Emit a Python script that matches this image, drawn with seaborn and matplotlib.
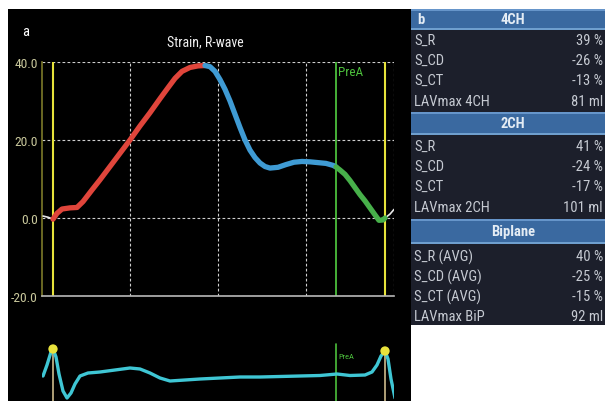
import numpy as np
import pandas as pd
import seaborn as sns
import matplotlib.pyplot as plt
from matplotlib import font_manager
from matplotlib.patches import Rectangle

W, H = 605, 402

## strain curve, x = frame index (0..352), y = strain %
lead_t = [1, 6, 11]
lead_v = [0.5, 0.2, -0.3]
red_t = [11, 15, 20, 28, 35, 41, 50, 58, 68, 78, 88, 98, 108, 118, 126, 133, 140, 148, 156, 163]
red_v = [-0.3, 1.2, 2.3, 2.6, 2.7, 4.2, 7.2, 9.8, 13.2, 16.6, 20.0, 23.6, 27.0, 30.6, 33.4, 35.8, 37.6, 38.6, 39.0, 39.1]
blue_t = [163, 168, 173, 178, 183, 188, 193, 198, 203, 208, 213, 218, 223, 228, 236, 244, 252, 260, 268, 276, 284, 291, 294]
blue_v = [39.1, 38.8, 37.6, 35.5, 33.0, 30.0, 26.6, 23.2, 20.0, 17.4, 15.5, 14.1, 13.2, 12.8, 13.0, 13.7, 14.3, 14.5, 14.4, 14.2, 14.0, 13.5, 13.1]
green_t = [294, 298, 303, 308, 313, 318, 323, 328, 333, 337, 341, 343]
green_v = [13.1, 12.3, 11.2, 9.6, 7.8, 6.0, 4.4, 2.6, 0.8, -0.6, -0.5, 0.0]
tail_t = [343, 348, 352]
tail_v = [0.0, 1.0, 2.2]

## markers
r_marks = [11, 343]
prea_t = 294

## ECG trace (arbitrary units)
ecg_t = [1, 5, 9, 11, 14, 17, 21, 25, 29, 33, 38, 46, 58, 73, 88, 98, 108, 118, 128, 143, 158, 178,
         198, 218, 238, 258, 278, 295, 308, 323, 330, 335, 339, 343, 346, 349, 353]
ecg_v = [23, 34, 47, 50, 42, 25, 8, 1, 6, 15, 23, 26, 27, 29, 31, 30, 26, 21, 18, 19, 20, 21,
         22, 22, 22.5, 23, 23.5, 25, 23.5, 24, 27, 34, 43, 48, 40, 20, 1]
r_peak_v = [50, 48]

## table
labels_4ch = ['S_R', 'S_CD', 'S_CT', 'LAVmax 4CH']
values_4ch = [39, -26, -13, 81]
labels_2ch = ['S_R', 'S_CD', 'S_CT', 'LAVmax 2CH']
values_2ch = [41, -24, -17, 101]
labels_bip = ['S_R (AVG)', 'S_CD (AVG)', 'S_CT (AVG)', 'LAVmax BiP']
values_bip = [40, -25, -15, 92]
units = ['%', '%', '%', 'ml']
headers = ['4CH', '2CH', 'Biplane']

yticks = [-20, 0, 20, 40]
ytick_labels = ['-20.0', '0.0', '20.0', '40.0']


def box(x0, y0, x1, y1):
    return [x0 / W, 1 - y1 / H, (x1 - x0) / W, (y1 - y0) / H]


sns.set_style('dark')
installed = {f.name for f in font_manager.fontManager.ttflist}
narrow = [f for f in ['Liberation Sans Narrow', 'DejaVu Sans Condensed', 'Roboto Condensed'] if f in installed]
plt.rcParams['font.family'] = narrow + ['Liberation Sans', 'DejaVu Sans']
# without a condensed face, shrink the text a bit
fs = 10.5 if narrow else 9.5

fig = plt.figure(figsize=(W / 100, H / 100), dpi=100)
fig.patch.set_facecolor('white')

# black screen background
bg = fig.add_axes(box(8, 10, 411, 402))
bg.set_facecolor('black')
bg.set_xticks([])
bg.set_yticks([])
for s in bg.spines.values():
    s.set_visible(False)

# main strain plot
ax = fig.add_axes(box(42, 63, 394, 297))
ax.patch.set_alpha(0)
ax.set_xlim(0, 352)
ax.set_ylim(-20, 40)
ax.set_xticks([88, 176, 264, 352])
ax.set_xticklabels([])
ax.set_yticks(yticks)
ax.set_yticklabels(ytick_labels)
ax.tick_params(axis='y', colors='#ffffff', labelcolor='#c9c89c', labelsize=fs - 0.8, length=2.5, width=0.8, pad=0.5)
ax.tick_params(axis='x', colors='#a0a0a0', length=3, width=0.8)
ax.grid(True, color='#cfcfcf', lw=0.8, linestyle=(0, (2.5, 2)))
for k in ['top', 'right']:
    ax.spines[k].set_visible(False)
ax.spines['left'].set_color('#7c7a2a')
ax.spines['left'].set_linewidth(1.2)
ax.spines['bottom'].set_color('#b8b8b8')
ax.spines['bottom'].set_linewidth(1.2)
ax.spines['bottom'].set_zorder(5)

for t in r_marks:
    ax.axvline(t, color='#e6e23a', lw=1.5, zorder=2)
ax.axvline(prea_t, color='#4cbf3c', lw=1.3, zorder=2)

sns.lineplot(x=lead_t, y=lead_v, ax=ax, color='#e8e8e8', lw=1.2, zorder=3)
sns.lineplot(x=tail_t, y=tail_v, ax=ax, color='#e8e8e8', lw=1.2, zorder=3)
sns.lineplot(x=red_t, y=red_v, ax=ax, color='#e0453b', lw=3.8, zorder=4)
sns.lineplot(x=blue_t, y=blue_v, ax=ax, color='#3f9bd4', lw=3.8, zorder=4)
sns.lineplot(x=green_t, y=green_v, ax=ax, color='#47b04a', lw=3.8, zorder=4)
ax.set_xlabel('')
ax.set_ylabel('')
ax.text(prea_t + 2, 37.5, 'PreA', color='#4cbf3c', fontsize=fs - 1, va='center', ha='left')

fig.text(22 / W, 1 - 32 / H, 'a', color='white', fontsize=fs, va='center')
fig.text(205 / W, 1 - 42 / H, 'Strain, R-wave', color='#f0f0f0', fontsize=fs - 0.5, va='center', ha='center')

# ECG strip
ex = fig.add_axes(box(42, 340, 394, 402))
ex.patch.set_alpha(0)
ex.set_xlim(0, 352)
ex.set_ylim(-2, 60)
ex.axis('off')
for t, v in zip(r_marks, r_peak_v):
    ex.plot([t, t], [v, -2], color='#cdbb8c', lw=1.2, zorder=1)
ex.plot([prea_t, prea_t], [55, -2], color='#4cbf3c', lw=1.2, zorder=1)
sns.lineplot(x=ecg_t, y=ecg_v, ax=ex, color='#3fc6d4', lw=2.4, zorder=3)
sns.scatterplot(x=r_marks, y=r_peak_v, ax=ex, color='#e8e23c', s=45, edgecolor='none', zorder=4)
ex.text(prea_t + 2, 43, 'PreA', color='#4cbf3c', fontsize=6, va='center', ha='left')
ex.set_xlabel('')
ex.set_ylabel('')

# measurement panel
tp = fig.add_axes(box(411, 10, 605, 326))
tp.set_facecolor('#1c1f2b')
tp.set_xlim(411, 605)
tp.set_ylim(326, 10)
tp.set_xticks([])
tp.set_yticks([])
for s in tp.spines.values():
    s.set_visible(False)

header_spans = [(10, 31), (113, 136), (220, 245)]
row_y = [[41, 61, 81, 102], [147, 167, 187, 208], [257, 277, 297, 317]]
blocks = [(labels_4ch, values_4ch), (labels_2ch, values_2ch), (labels_bip, values_bip)]

for title, (y0, y1), rows, (labs, vals) in zip(headers, header_spans, row_y, blocks):
    tp.add_patch(Rectangle((411, y0), 194, y1 - y0, facecolor='#3a69a0', edgecolor='none'))
    tp.plot([411, 605], [y0 + 0.8, y0 + 0.8], color='#6f9fd3', lw=1.2)
    tp.plot([411, 605], [y1 - 0.8, y1 - 0.8], color='#7aaad8', lw=1.2)
    tp.text(513, (y0 + y1) / 2, title, color='#e4ecf4', fontsize=fs, fontweight='bold',
            ha='center', va='center')
    for yy, lab, val, u in zip(rows, labs, vals, units):
        tp.text(414, yy, lab, color='#c6cad2', fontsize=fs, ha='left', va='center')
        tp.text(603, yy, f'{val} {u}', color='#c6cad2', fontsize=fs, ha='right', va='center')

tp.text(417, 20, 'b', color='#e4ecf4', fontsize=fs, fontweight='bold', ha='left', va='center')

fig.savefig('out.png', dpi=100, facecolor='white')
